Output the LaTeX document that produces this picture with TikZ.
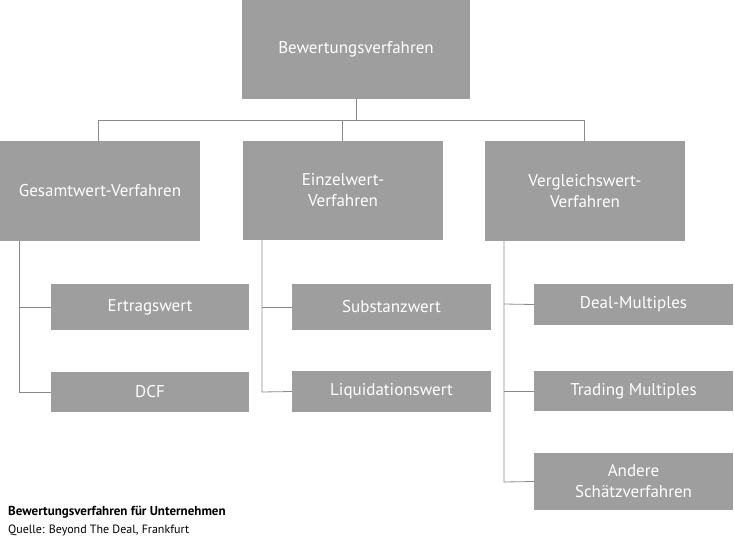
\documentclass[tikz,border=0pt]{standalone}
\usepackage{fontspec}
\setmainfont{PT Sans}
\begin{document}
\begin{tikzpicture}[x=1pt,y=-1pt,
 box/.style={fill=boxgray,text=white,font=\fontsize{17}{21}\selectfont,align=center,inner sep=0pt},
 ln/.style={draw=linegray,line width=0.8pt}]
\definecolor{boxgray}{HTML}{9E9E9E}
\definecolor{linegray}{HTML}{8A8A8A}
\useasboundingbox (0,0) rectangle (734,539);
\newcommand\bx[6]{\node[box,minimum width=#4-#2,minimum height=#5-#3] (#1) at ({(#2+#4)/2},{(#3+#5)/2}) {#6};}
\bx{top}{242}{0}{470}{99}{Bewertungsverfahren}
\bx{ges}{0}{141}{200}{241}{Gesamtwert-Verfahren}
\bx{ein}{243}{141}{443}{240}{Einzelwert-\\Verfahren}
\bx{ver}{485}{141}{685}{241}{Vergleichswert-\\Verfahren}
\bx{ert}{51}{284}{249}{330}{Ertragswert}
\bx{dcf}{51}{372}{249}{412}{DCF}
\bx{sub}{292}{284}{491}{330}{Substanzwert}
\bx{liq}{292}{371}{491}{412}{Liquidationswert}
\bx{deal}{534}{284}{733}{325}{Deal-Multiples}
\bx{trad}{534}{371}{733}{411}{Trading Multiples}
\bx{and}{534}{453}{733}{510}{Andere\\Schätzverfahren}
\coordinate (hub) at (356,120);
\draw[ln] (top.south) -- (hub);
\draw[ln] (98,141) -- (98,120) -- (584,120) -- (584,141);
\draw[ln] (342,120) -- (342,141);
\draw[ln] (19,241) -- (19,392) -- (dcf.west);
\draw[ln] (19,307) -- (ert.west);
\draw[ln] (262,240) -- (262,392) -- (liq.west);
\draw[ln] (262,307) -- (sub.west);
\draw[ln] (504,241) -- (504,482) -- (and.west);
\draw[ln] (504,304) -- (deal.west);
\draw[ln] (504,391) -- (trad.west);
\node[anchor=west,inner sep=0pt,font=\bfseries\fontsize{13}{15}\selectfont] (cap) at (8,512) {Bewertungsverfahren für Unternehmen};
\node[anchor=west,inner sep=0pt,font=\fontsize{12}{14}\selectfont] (src) at (8,530) {Quelle: Beyond The Deal, Frankfurt};
\end{tikzpicture}
\end{document}
